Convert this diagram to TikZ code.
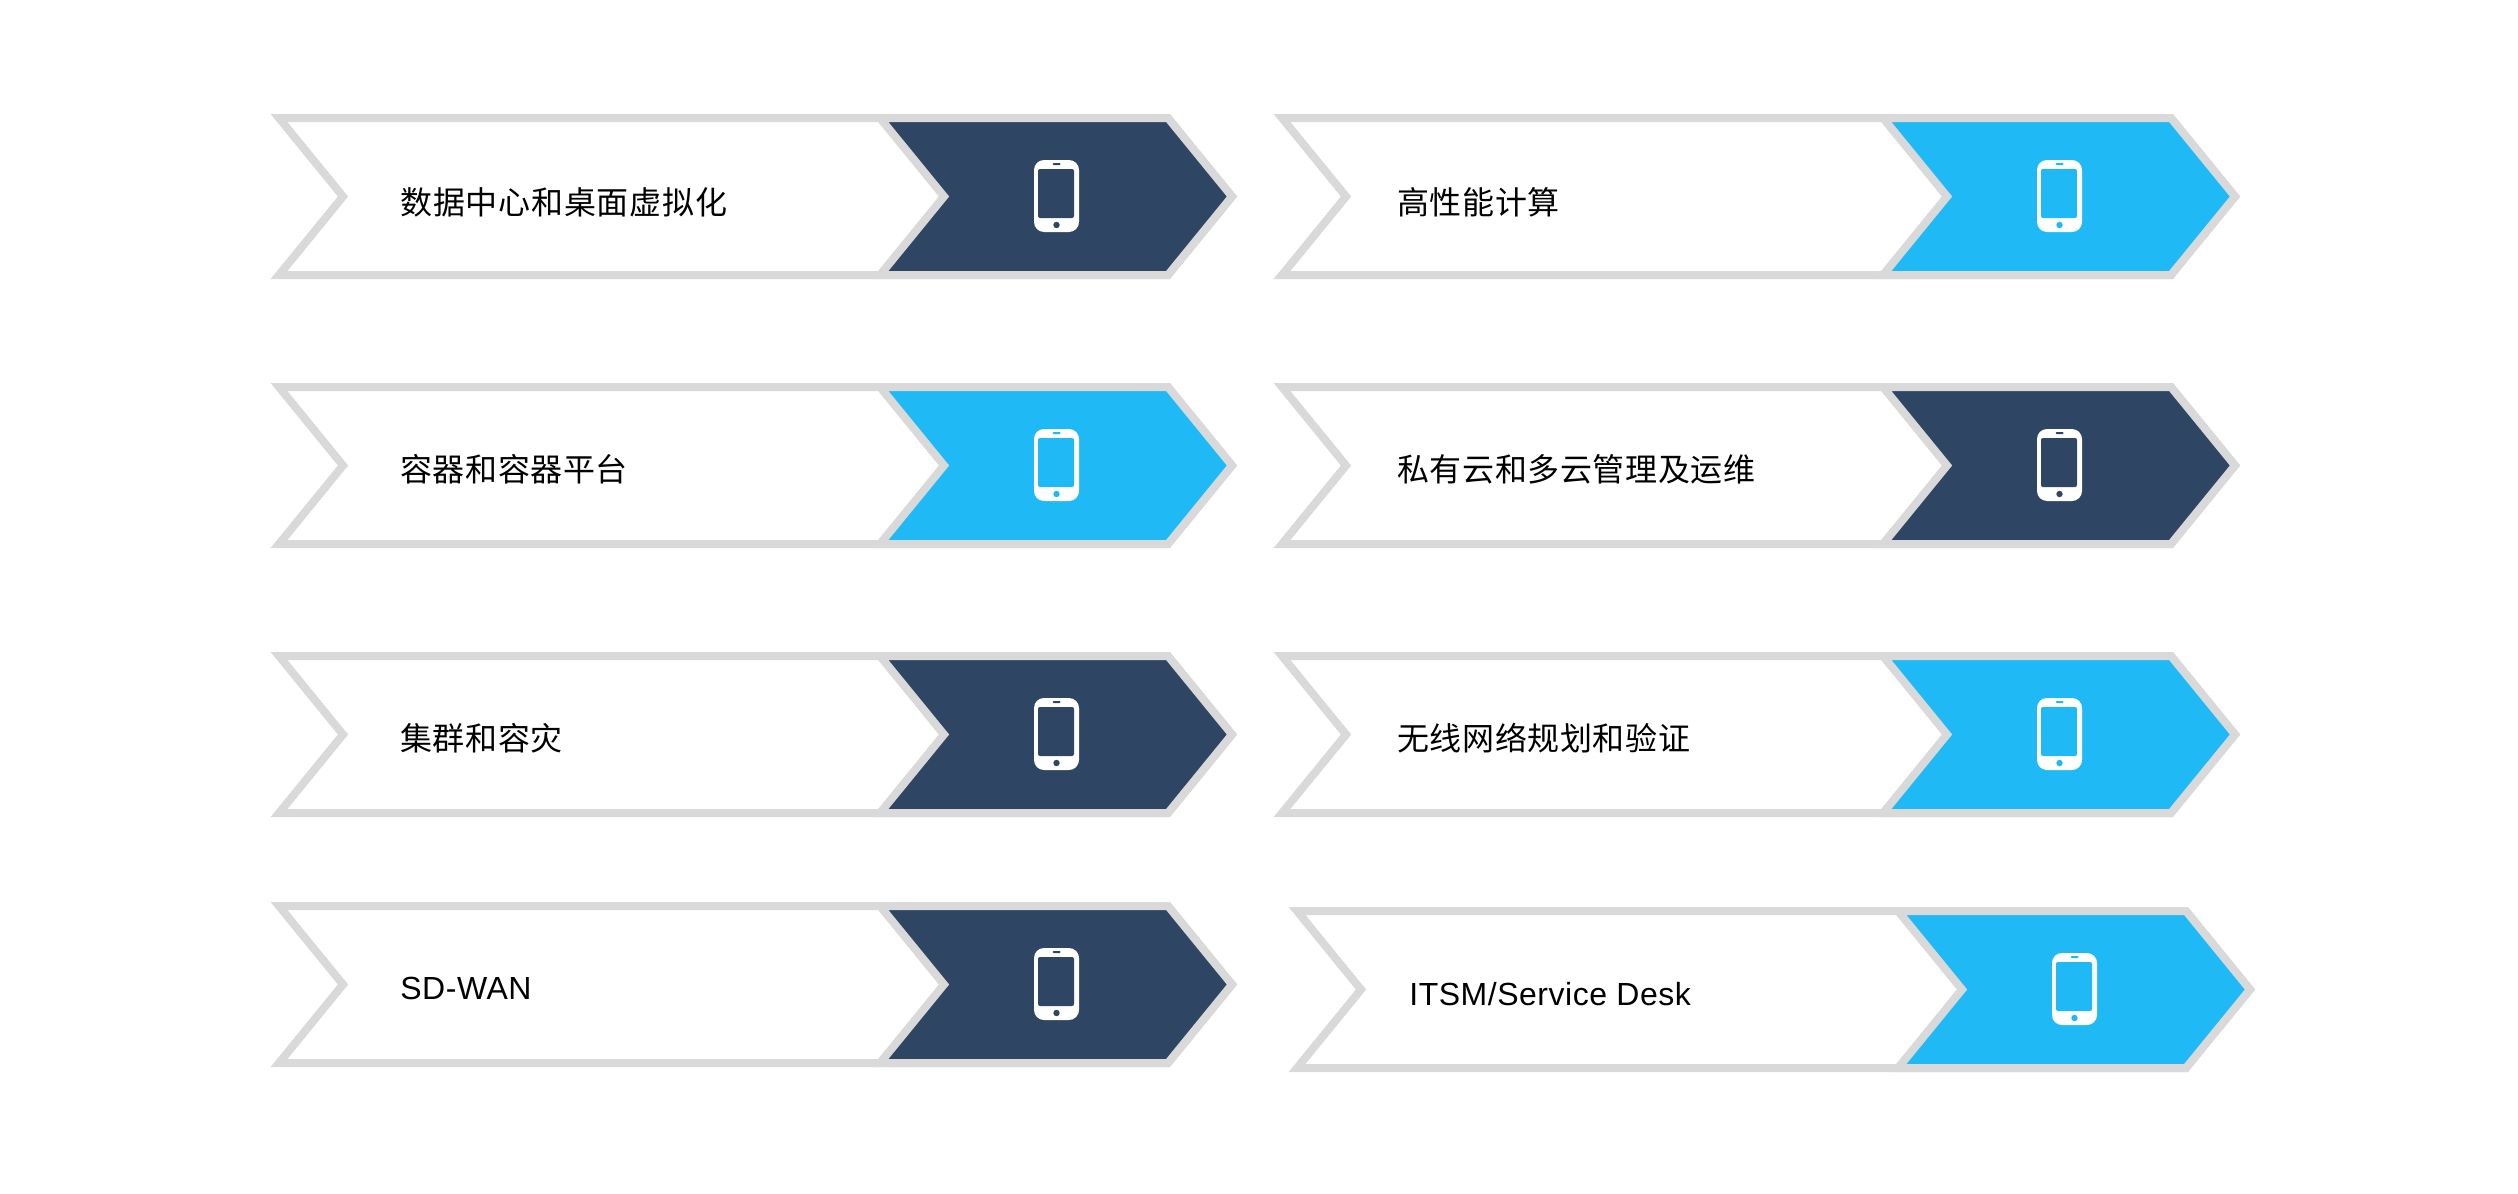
\documentclass[tikz,border=0pt]{standalone}
\usepackage{fontspec}
\setmainfont[LetterSpace=1.6]{Liberation Sans}
\newfontfamily\cjk[LetterSpace=1.8]{Noto Sans CJK SC}
\newfontfamily\cjkwide[LetterSpace=2.3]{Noto Sans CJK SC}
\usetikzlibrary{positioning}
\definecolor{rim}{HTML}{D9D9D9}
\definecolor{navy}{HTML}{2F4564}
\definecolor{sky}{HTML}{1FBAF5}
\tikzset{
	edge/.style={draw=rim, line width=4pt, miter limit=10},
	tag/.style={anchor=west, inner sep=0pt, text=black, font=\fontsize{16}{20}\selectfont},
	pics/band/.style={code={
		\path[edge, fill=white] (9,4) -- (898,4) -- (962,82.5) -- (898,161) -- (9,161) -- (73,82.5) -- cycle;
		\path[edge, fill=#1] (610,4) -- (898,4) -- (962,82.5) -- (898,161) -- (610,161) -- (674,82.5) -- cycle;
		\fill[white, rounded corners=5pt] (764,46) rectangle (809,118);
		\fill[#1, rounded corners=1pt] (768,55) rectangle (804,104);
		\fill[#1, rounded corners=.5pt] (782.5,49) rectangle (790.5,51);
		\fill[#1] (786.5,111) circle (3.2);
	}}
}

\begin{document}
\begin{tikzpicture}[x=.5pt, y=-.5pt, on grid]
	\useasboundingbox (0,0) rectangle (2518,1194);

	\coordinate (a1) at (270,114);
	\coordinate[below=134.5pt of a1] (a2);
	\coordinate[below=134.5pt of a2] (a3);
	\coordinate[below=125pt of a3] (a4);
	\coordinate[right=501.5pt of a1] (b1);
	\coordinate[right=501.5pt of a2] (b2);
	\coordinate[right=501.5pt of a3] (b3);
	\coordinate[below right=127.5pt and 7.5pt of b3] (b4);

	\pic at (a1) {band=navy};
	\pic at (a2) {band=sky};
	\pic at (a3) {band=navy};
	\pic at (a4) {band=navy};
	\pic at (b1) {band=sky};
	\pic at (b2) {band=navy};
	\pic at (b3) {band=sky};
	\pic at (b4) {band=sky};

	\node[tag] (t1) at ([shift={(130,88)}]a1) {\cjkwide 数据中心和桌面虚拟化};
	\node[tag] (t2) at ([shift={(130,86)}]a2) {\cjk 容器和容器平台};
	\node[tag] (t3) at ([shift={(130,86)}]a3) {\cjk 集群和容灾};
	\node[tag] (t4) at ([shift={(130,86)}]a4) {SD-WAN};
	\node[tag] (t5) at ([shift={(124,88)}]b1) {\cjk 高性能计算};
	\node[tag] (t6) at ([shift={(124,86)}]b2) {\cjk 私有云和多云管理及运维};
	\node[tag] (t7) at ([shift={(124,86)}]b3) {\cjk 无线网络规划和验证};
	\node[tag] (t8) at ([shift={(121,87)}]b4) {ITSM/Service Desk};
\end{tikzpicture}
\end{document}
